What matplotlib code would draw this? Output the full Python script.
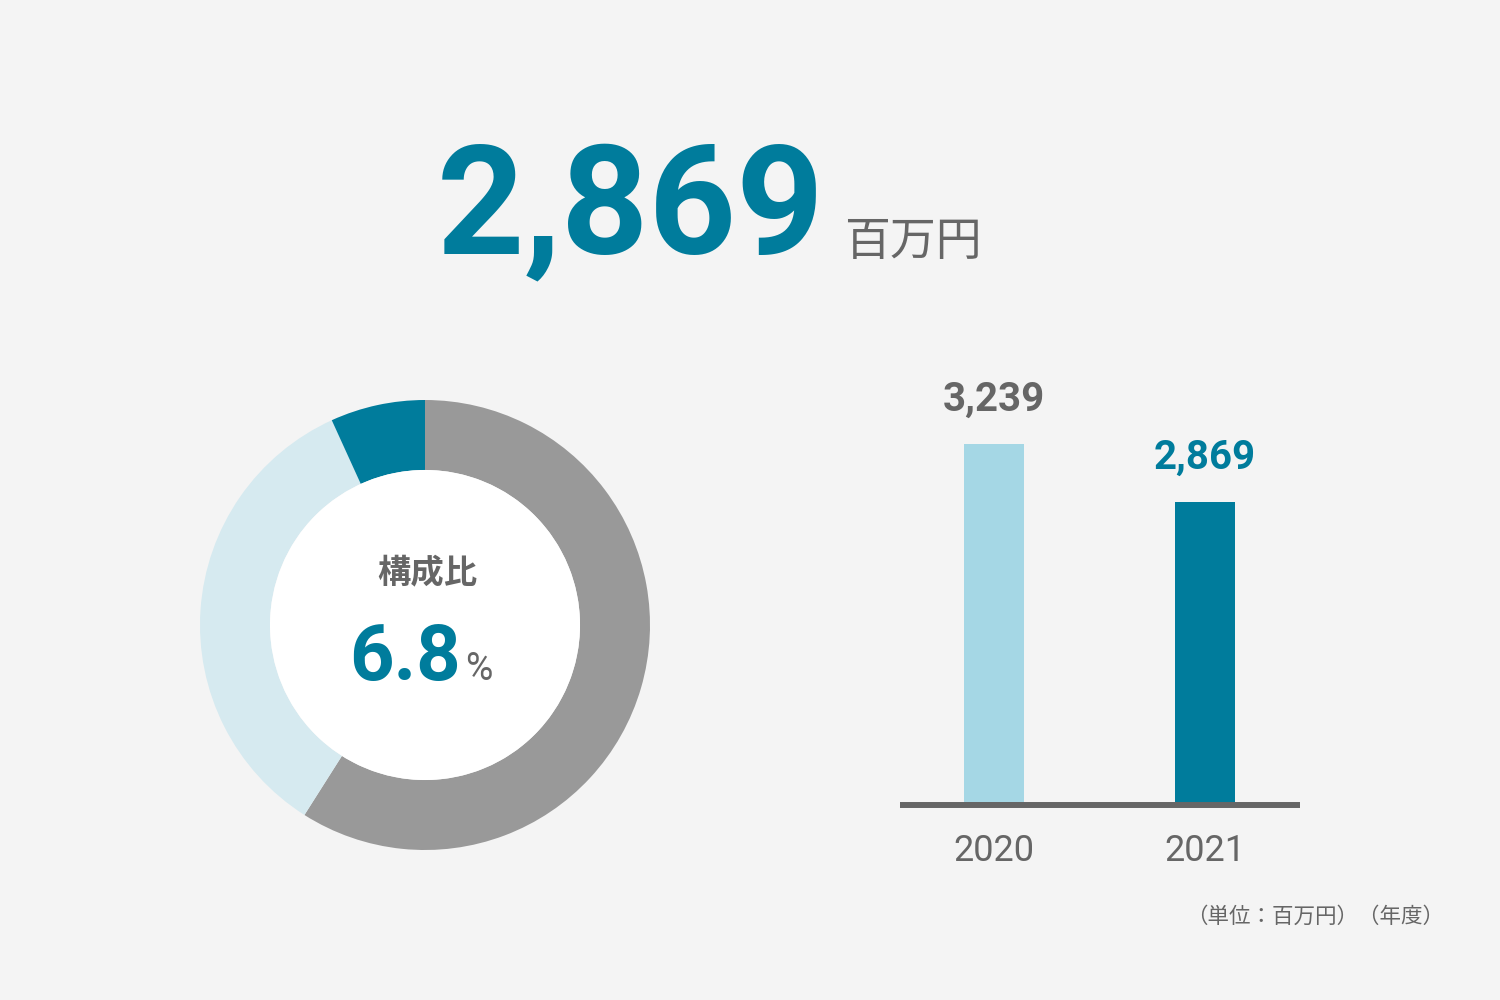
import matplotlib
matplotlib.use("Agg")
import matplotlib.pyplot as plt
from matplotlib.patches import Circle

plt.rcParams["font.family"] = ["Roboto", "Noto Sans CJK JP", "DejaVu Sans"]

# data
total_value = "2,869"
total_unit = "百万円"
share_label = "構成比"
share_pct = 6.8
donut_parts = [59.0, 34.2, 6.8]          # other, other segment, this segment
years = ["2020", "2021"]
year_values = [3239, 2869]
footnote = "（単位：百万円）（年度）"

TEAL = "#007C9C"
LIGHT_BAR = "#A5D7E5"
LIGHT_RING = "#D6EAF0"
GRAY_RING = "#999999"
TEXT_GRAY = "#666666"
BG = "#F4F4F4"
CJK = ["Noto Sans CJK JP", "DejaVu Sans"]

fig = plt.figure(figsize=(15, 10), dpi=100)
fig.patch.set_facecolor(BG)

# headline number
fig.text(0.291, 0.747, total_value, fontsize=110, fontweight="bold", color=TEAL,
         ha="left", va="baseline")
fig.text(0.563, 0.745, total_unit, fontsize=33, color=TEXT_GRAY, family=CJK,
         ha="left", va="baseline")

# donut
ax_d = fig.add_axes([200 / 1500, 150 / 1000, 450 / 1500, 450 / 1000])
ax_d.pie(donut_parts, colors=[GRAY_RING, LIGHT_RING, TEAL], startangle=90,
         counterclock=False, radius=1.0,
         wedgeprops=dict(width=0.311, edgecolor="none"))
ax_d.add_patch(Circle((0, 0), 0.689, facecolor="white", edgecolor="none"))
ax_d.set_xlim(-1, 1)
ax_d.set_ylim(-1, 1)
ax_d.set_aspect("equal")
ax_d.axis("off")

ax_d.text(0.01, 0.23, share_label, fontsize=24, fontweight="bold", color=TEXT_GRAY,
          family=CJK, ha="center", va="center")
ax_d.text(0.16, -0.245, f"{share_pct:.1f}", fontsize=56, fontweight="bold", color=TEAL,
          ha="right", va="baseline")
ax_d.text(0.18, -0.245, "%", fontsize=27, color=TEXT_GRAY, ha="left", va="baseline")

# bars
ax_b = fig.add_axes([900 / 1500, 195 / 1000, 400 / 1500, 505 / 1000])
ax_b.set_facecolor("none")
xs = list(range(len(years)))
bars = ax_b.bar(xs, year_values, width=0.284, color=[LIGHT_BAR, TEAL])
ax_b.set_xlim(-0.4455, 1.450)
ax_b.set_ylim(936, 4157)
for x, v, c in zip(xs, year_values, [TEXT_GRAY, TEAL]):
    ax_b.annotate(f"{v:,}", (x, v), xytext=(0, 32), textcoords="offset points",
                  ha="center", va="center", fontsize=29, fontweight="bold", color=c)
ax_b.set_xticks(xs)
ax_b.set_xticklabels(years, fontsize=26, color=TEXT_GRAY)
ax_b.tick_params(axis="x", length=0, pad=20)
ax_b.set_yticks([])
for s in ["top", "right", "left"]:
    ax_b.spines[s].set_visible(False)
ax_b.spines["bottom"].set_color(TEXT_GRAY)
ax_b.spines["bottom"].set_linewidth(4.3)
ax_b.spines["bottom"].set_capstyle("butt")

fig.text(1444 / 1500, 1 - 917 / 1000, footnote, fontsize=15.5, color=TEXT_GRAY,
         family=CJK, ha="right", va="center")

fig.savefig("out.png", dpi=100, facecolor=BG)
